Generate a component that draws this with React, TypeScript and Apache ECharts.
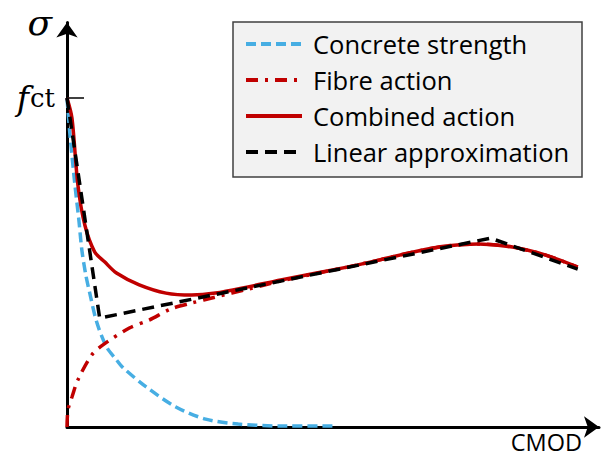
import React, { useEffect, useRef } from "react";
import * as echarts from "echarts";

// CMOD (arbitrary units) and stress (relative to f_ct = 1)
const cmodConcrete = [0, 0.03, 0.08, 0.12, 0.15, 0.19, 0.23, 0.3, 0.4, 0.5, 0.56, 0.8, 1.1, 1.4, 1.73, 2.16, 2.7];
const sigmaConcrete = [1.0, 0.888, 0.736, 0.629, 0.538, 0.462, 0.407, 0.319, 0.243, 0.204, 0.182, 0.122, 0.061, 0.024, 0.009, 0.003, 0.003];

const cmodFibre = [0, 0.01, 0.05, 0.11, 0.25, 0.36, 0.63, 0.83, 1.05, 1.26, 1.5, 1.83, 2.16, 2.83, 3.16, 3.5, 3.83, 4.16, 4.5, 4.83, 5.16];
const sigmaFibre = [0, 0.052, 0.091, 0.143, 0.219, 0.249, 0.301, 0.325, 0.359, 0.377, 0.395, 0.419, 0.444, 0.486, 0.508, 0.532, 0.55, 0.556, 0.547, 0.523, 0.486];

const cmodCombined = [0, 0.05, 0.11, 0.18, 0.28, 0.38, 0.5, 0.73, 1.0, 1.26, 1.5, 1.83, 2.16, 2.83, 3.16, 3.5, 3.83, 4.16, 4.5, 4.83, 5.16];
const sigmaCombined = [1.0, 0.939, 0.736, 0.614, 0.532, 0.502, 0.468, 0.432, 0.407, 0.401, 0.407, 0.426, 0.447, 0.486, 0.508, 0.532, 0.55, 0.556, 0.547, 0.523, 0.486];

const cmodLinear = [0, 0.33, 4.28, 5.16];
const sigmaLinear = [1.0, 0.331, 0.574, 0.48];

const seriesNames = ["Concrete strength", "Fibre action", "Combined action", "Linear approximation"];
const yTickValues = [1];

const zip = (xs: number[], ys: number[]) => xs.map((x, i) => [x, ys[i]]);

const FONT = "Open Sans";

export default function App() {
  const ref = useRef<HTMLDivElement>(null);
  useEffect(() => {
    if (!ref.current) return;
    const chart = echarts.init(ref.current, null, { renderer: "svg" });
    const axisLine = {
      show: true,
      symbol: ["none", "arrow"],
      symbolSize: [16, 15],
      lineStyle: { color: "#000", width: 3 },
    };
    chart.setOption({
      animation: false,
      backgroundColor: "#fff",
      grid: { left: 67, right: -2.5, top: 22.5, bottom: 30 },
      graphic: [
        {
          type: "rect",
          shape: { x: 233, y: 22, width: 349, height: 155 },
          style: { fill: "#f2f2f2", stroke: "#404040", lineWidth: 1.5 },
          z: 0,
        },
      ],
      legend: {
        orient: "vertical",
        left: 244,
        top: 29,
        padding: 0,
        itemGap: 6,
        itemWidth: 56,
        itemHeight: 14,
        data: seriesNames,
        itemStyle: { opacity: 0 },
        lineStyle: { width: 4 },
        textStyle: {
          fontFamily: FONT,
          fontSize: 25.5,
          lineHeight: 30,
          color: "#000",
          padding: [0, 0, 0, 6],
        },
      },
      xAxis: {
        type: "value",
        min: 0,
        max: 5.375,
        name: "CMOD",
        nameLocation: "end",
        nameGap: 0,
        nameTextStyle: {
          fontFamily: FONT,
          fontSize: 23.5,
          lineHeight: 22,
          color: "#000",
          align: "right",
          verticalAlign: "top",
          padding: [4, 17, 0, 0],
        },
        axisLine,
        axisTick: { show: false },
        axisLabel: { show: false },
        splitLine: { show: false },
      },
      yAxis: {
        type: "value",
        min: 0,
        max: 1.2295,
        name: "σ",
        nameLocation: "end",
        nameGap: 0,
        nameTextStyle: {
          fontFamily: "DejaVu Serif",
          fontStyle: "italic",
          fontSize: 36,
          color: "#000",
          align: "right",
          verticalAlign: "middle",
          padding: [0, 15, 6, 0],
        },
        axisLine,
        axisTick: {
          show: true,
          inside: true,
          length: 17,
          customValues: yTickValues,
          lineStyle: { color: "#000", width: 1.5 },
        },
        axisLabel: {
          show: true,
          margin: 12,
          customValues: yTickValues,
          formatter: () => "{f|f}{ct|ct}",
          rich: {
            f: { fontFamily: "DejaVu Serif", fontStyle: "italic", fontSize: 33, color: "#000", padding: [0, 1, 0, 0] },
            ct: { fontFamily: "DejaVu Serif", fontSize: 26, color: "#000" },
          },
        },
        splitLine: { show: false },
      },
      series: [
        {
          name: seriesNames[0],
          type: "line",
          data: zip(cmodConcrete, sigmaConcrete),
          symbol: "none",
          smooth: 0.3,
          color: "#47aee3",
          lineStyle: { color: "#47aee3", width: 3.5, type: [10, 5] },
        },
        {
          name: seriesNames[1],
          type: "line",
          data: zip(cmodFibre, sigmaFibre),
          symbol: "none",
          smooth: 0.3,
          color: "#c00000",
          lineStyle: { color: "#c00000", width: 3.5, type: [12, 7, 3, 7] },
        },
        {
          name: seriesNames[2],
          type: "line",
          data: zip(cmodCombined, sigmaCombined),
          symbol: "none",
          smooth: 0.3,
          color: "#c00000",
          lineStyle: { color: "#c00000", width: 3.5, type: "solid" },
        },
        {
          name: seriesNames[3],
          type: "line",
          data: zip(cmodLinear, sigmaLinear),
          symbol: "none",
          color: "#000",
          lineStyle: { color: "#000", width: 3.5, type: [12, 7] },
        },
      ],
    });
    return () => chart.dispose();
  }, []);
  return (
    <div
      ref={ref}
      style={{ position: "absolute", left: 0, top: 0, width: 602, height: 457 }}
    />
  );
}
